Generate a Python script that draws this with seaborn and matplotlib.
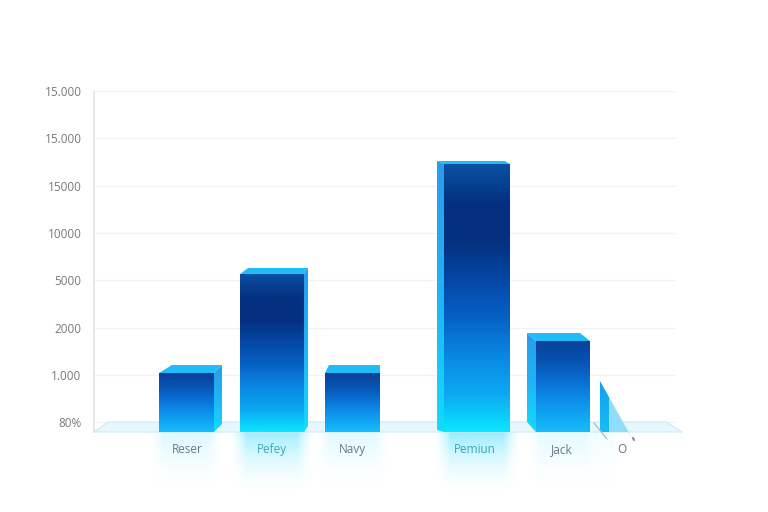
import numpy as np
import pandas as pd
import seaborn as sns
import matplotlib.pyplot as plt
from matplotlib.colors import LinearSegmentedColormap, to_rgb
from matplotlib.patches import Polygon

categories = ['Reser', 'Pefey', 'Navy', 'Pemiun', 'Jack', 'O']
values = [59, 158, 59, 268, 91, 51]

tick_positions = [10, 57, 104, 152, 199, 246, 294, 341]
tick_labels = ['80%', '1.000', '2000', '5000', '10000', '15000', '15.000', '15.000']

# front face of each bar, and how far the back edge is shifted (left, right, up)
bar_left = [159, 240, 325, 444, 536, 600]
bar_right = [214, 304, 380, 510, 590, 609]
back_left = [13, 8, 4, -7, -9, 0]
back_right = [8, 4, 0, -5, -10, 0]
back_up = [8, 6, 8, 3, 8, 0]
side_foot = [8, 6, 8, 2, 10, 0]
label_pos = [187, 272, 352, 475, 562, 622]

label_colors = ['#666e7a', '#2f8aa0', '#666e7a', '#1f8294', '#666e7a', '#666e7a']
glow = [0.22, 0.6, 0.2, 0.65, 0.18, 0.08]

normal_cmap = LinearSegmentedColormap.from_list(
    'normal', ['#08409a', '#0756b5', '#0a78dc', '#0f9cf0', '#16bcf9'])
bright_cmap = LinearSegmentedColormap.from_list(
    'bright', ['#0a4fa2', '#05317f', '#04307f', '#0447a5', '#0660c4', '#0a86e2', '#0ba8f2', '#0ce6ff'])
side_cmap = LinearSegmentedColormap.from_list('side', ['#2a9cec', '#20b4f6', '#12dcff'])

sns.set_theme(style='white')
plt.rcParams['font.family'] = ['Open Sans', 'DejaVu Sans']

fig = plt.figure(figsize=(7.68, 5.12), dpi=100)
ax = fig.add_axes([94 / 768, 1 - 432 / 512, 582 / 768, 341 / 512])

df = pd.DataFrame({'pos': [(l + r) / 2 for l, r in zip(bar_left, bar_right)],
                   'value': values})
sns.barplot(data=df, x='pos', y='value', native_scale=True, color='#0a6fd0',
            width=0.5, ax=ax, zorder=3)

XMIN, XMAX, YMAX = 94, 676, 341
ax.set_autoscale_on(False)

ax.set_yticks(tick_positions)
ax.set_yticklabels(tick_labels)
ax.set_xticks(label_pos)
ax.set_xticklabels(categories)
ax.set_xlabel('')
ax.set_ylabel('')
ax.tick_params(axis='y', length=0, pad=9, labelsize=8.5, labelcolor='#77797c')
ax.tick_params(axis='x', length=0, pad=15, labelsize=8.5)
for lab, c in zip(ax.get_xticklabels(), label_colors):
    lab.set_color(c)
    lab.set_verticalalignment('baseline')
ax.grid(axis='y', color='#f1f2f3', lw=0.9)
ax.set_axisbelow(True)
sns.despine(ax=ax, top=True, right=True, bottom=True)
ax.spines['left'].set_color('#dfe1e3')
ax.spines['left'].set_linewidth(1.1)

# floor plane
ax.add_patch(Polygon([(94, 0), (108, 10), (666, 10), (682, 0)], closed=True,
                     facecolor='#e6f8fd', edgecolor='#cfeaf2', lw=0.8,
                     clip_on=False, zorder=2))

ramp = np.linspace(0, 1, 128)[:, None]
bars = list(ax.patches[:len(categories)])
for i, bar in enumerate(bars):
    x0, x1 = bar_left[i], bar_right[i]
    top = values[i]
    up = back_up[i]
    bar.set_x(x0)
    bar.set_width(x1 - x0)
    bar.set_facecolor('none')
    bar.set_edgecolor('none')

    # reflection under the bar, soft on all sides
    xs = np.linspace(-1, 1, 80)
    fade_x = np.clip((1 - np.abs(xs)) * 2.6, 0, 1) ** 1.5
    fade_y = np.linspace(1, 0, 80)[:, None] ** 1.8
    rgba = np.zeros((80, 80, 4))
    rgba[..., :3] = to_rgb('#5fe4ff')
    rgba[..., 3] = glow[i] * fade_y * fade_x
    ax.imshow(rgba, extent=(x0 - 10, x1 + 10, -62, 0), aspect='auto',
              clip_on=False, zorder=1, origin='upper')

    # front face gradient
    cmap = bright_cmap if i in (1, 3) else normal_cmap
    im = ax.imshow(ramp, cmap=cmap, extent=(x0, x1, 0, top), aspect='auto',
                   origin='upper', clip_on=False, zorder=4)

    if i == len(categories) - 1:
        # last mark is a wedge, not a box
        im.set_cmap(LinearSegmentedColormap.from_list('w', ['#10a0ee', '#18bcf8']))
        wedge = Polygon([(x0, top), (x1, top - 16), (x1, 0), (x0, 0)], closed=True,
                        transform=ax.transData, facecolor='none', edgecolor='none')
        ax.add_patch(wedge)
        im.set_clip_on(True)
        im.set_clip_path(wedge)
        ax.add_patch(Polygon([(x1, top - 16), (633, -8), (628, 0), (x1, 0)], closed=True,
                             facecolor='#8fdcfb', edgecolor='none', clip_on=False, zorder=3))
        ax.plot([633, 634], [-6, -8], color='#7c8a96', lw=1.5, clip_on=False, zorder=5)
        ax.plot([594, 607], [9, -7], color='#a9bcc6', lw=0.9, clip_on=False, zorder=5)
        continue

    # top face
    ax.add_patch(Polygon([(x0, top), (x1, top), (x1 + back_right[i], top + up),
                          (x0 + back_left[i], top + up)], closed=True,
                         facecolor='#1fbcf8', edgecolor='none', clip_on=False, zorder=5))
    # side face, on whichever side shows, with the same vertical fade as the front
    side = None
    if back_right[i] > 0:
        side = [(x1, top), (x1 + back_right[i], top + up),
                (x1 + back_right[i], side_foot[i]), (x1, 0)]
    if back_left[i] < 0:
        side = [(x0, top), (x0 + back_left[i], top + up),
                (x0 + back_left[i], side_foot[i]), (x0, 0)]
    if side is not None:
        sx = [p[0] for p in side]
        sim = ax.imshow(ramp, cmap=side_cmap, extent=(min(sx), max(sx), 0, top + up),
                        aspect='auto', origin='upper', zorder=3)
        clip = Polygon(side, closed=True, transform=ax.transData,
                       facecolor='none', edgecolor='none')
        ax.add_patch(clip)
        sim.set_clip_path(clip)

ax.set_xlim(XMIN, XMAX)
ax.set_ylim(0, YMAX)
fig.savefig('out.png', dpi=100, facecolor='white')
